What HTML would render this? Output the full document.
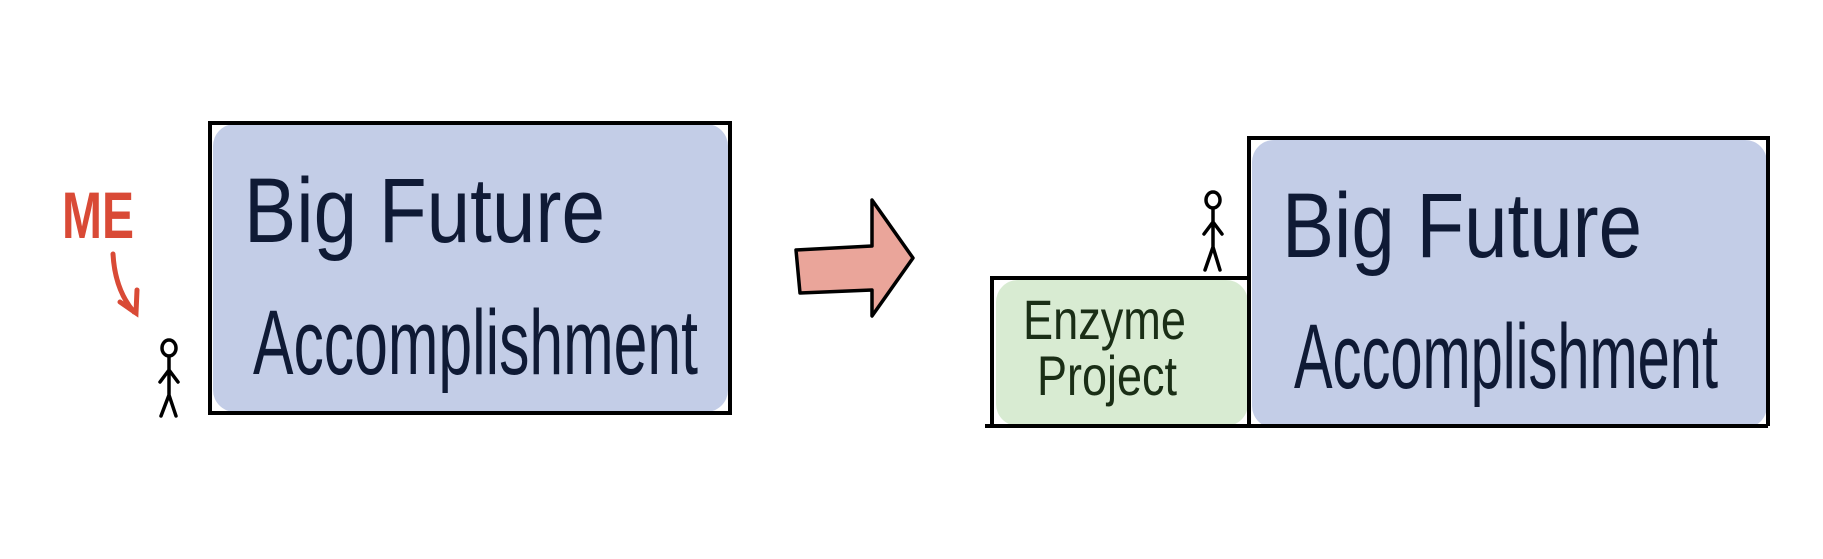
<!DOCTYPE html>
<html><head><style>body{margin:0;background:#fff}svg{display:block}</style></head><body>
<svg width="1823" height="559" viewBox="0 0 1823 559" xmlns="http://www.w3.org/2000/svg">
<g font-family="Liberation Sans, sans-serif">
<!-- left box -->
<rect x="213" y="124" width="515" height="288" rx="22" fill="#c3cde7"/>
<rect x="210" y="123" width="520" height="290" fill="none" stroke="#000" stroke-width="4"/>
<text x="244" y="242" font-size="92" fill="#0f1a35" textLength="361" lengthAdjust="spacingAndGlyphs">Big  Future</text>
<text x="253" y="374" font-size="92" fill="#0f1a35" textLength="445" lengthAdjust="spacingAndGlyphs">Accomplishment</text>
<!-- ME -->
<text x="62" y="238" font-size="66" font-weight="bold" fill="#d94a36" textLength="72" lengthAdjust="spacingAndGlyphs">ME</text>
<path d="M113 254 Q115 290 134 312 M120 302 L136 313 L137 290" fill="none" stroke="#d94a36" stroke-width="5" stroke-linecap="round"/>
<!-- stick figures -->
<g fill="none" stroke="#000" stroke-width="3.5" stroke-linecap="round">
<ellipse cx="169" cy="348" rx="7" ry="8"/><path d="M169 356 V395 M169 370 L160 382 M169 370 L178 382 M169 395 L161 416 M169 395 L176 416"/>
<ellipse cx="1213" cy="200" rx="7" ry="8"/><path d="M1213 208 V247 M1213 222 L1204 234 M1213 222 L1222 234 M1213 247 L1205 270 M1213 247 L1220 270"/>
</g>
<!-- arrow -->
<path d="M796 250 L872 246 L872 200 L913 258 L872 316 L872 290 L800 293 Z" fill="#eaa59a" stroke="#000" stroke-width="3.5" stroke-linejoin="round"/>
<!-- right -->
<rect x="996" y="280" width="252" height="146" rx="22" fill="#d8ebd2"/>
<rect x="1252" y="140" width="515" height="288" rx="22" fill="#c3cde7"/>
<path d="M992 426 V278 H1249 M1249 426 V138 H1768 V426 M985 426 H1768" fill="none" stroke="#000" stroke-width="4"/>
<text x="1023" y="339" font-size="56" fill="#1a2e16" textLength="163" lengthAdjust="spacingAndGlyphs">Enzyme</text>
<text x="1037" y="395" font-size="56" fill="#1a2e16" textLength="140" lengthAdjust="spacingAndGlyphs">Project</text>
<text x="1282" y="257" font-size="92" fill="#0f1a35" textLength="360" lengthAdjust="spacingAndGlyphs">Big  Future</text>
<text x="1294" y="388" font-size="92" fill="#0f1a35" textLength="424" lengthAdjust="spacingAndGlyphs">Accomplishment</text>
</g>
</svg>
</body></html>
